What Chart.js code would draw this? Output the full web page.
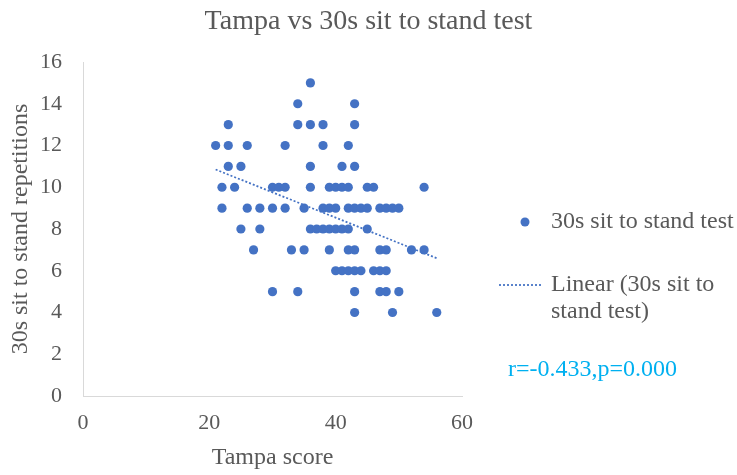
<!DOCTYPE html>
<html>
<head>
<meta charset="utf-8">
<script src="https://cdn.jsdelivr.net/npm/chart.js@4.4.1/dist/chart.umd.min.js"></script>
<style>
  html, body { margin: 0; padding: 0; background: #fff; }
  #wrap { width: 737px; height: 475px; }
</style>
</head>
<body>
<div id="wrap"><canvas id="myChart" width="737" height="475"></canvas></div>
<script>
// Tampa score (x) and 30s sit to stand repetitions (y)
var tampaScore = [
  36,
  34, 43,
  23, 34, 36, 38, 43,
  21, 23, 26, 32, 38, 42,
  23, 25, 36, 41, 43,
  22, 24, 30, 31, 32, 36, 39, 40, 41, 42, 45, 46, 54,
  22, 26, 28, 30, 32, 35, 38, 39, 40, 42, 43, 44, 45, 47, 48, 49, 50,
  25, 28, 36, 37, 38, 39, 40, 41, 42, 45,
  27, 33, 35, 39, 42, 43, 47, 48, 52, 54,
  40, 41, 42, 43, 44, 46, 47, 48,
  30, 34, 43, 47, 48, 50,
  43, 49, 56
];
var sitToStand = [
  15,
  14, 14,
  13, 13, 13, 13, 13,
  12, 12, 12, 12, 12, 12,
  11, 11, 11, 11, 11,
  10, 10, 10, 10, 10, 10, 10, 10, 10, 10, 10, 10, 10,
  9, 9, 9, 9, 9, 9, 9, 9, 9, 9, 9, 9, 9, 9, 9, 9, 9,
  8, 8, 8, 8, 8, 8, 8, 8, 8, 8,
  7, 7, 7, 7, 7, 7, 7, 7, 7, 7,
  6, 6, 6, 6, 6, 6, 6, 6,
  5, 5, 5, 5, 5, 5,
  4, 4, 4
];
// trend line end points as drawn in the picture
var trendX = [21, 56];
var trendY = [10.85, 6.6];

var xTicks = [0, 20, 40, 60];
var yTicks = [0, 2, 4, 6, 8, 10, 12, 14, 16];

var blue = '#4472c4';
var grey = '#595959';
var serif = "'Liberation Serif', 'Times New Roman', serif";

var points = tampaScore.map(function (x, i) { return { x: x, y: sitToStand[i] }; });
var trend = trendX.map(function (x, i) { return { x: x, y: trendY[i] }; });

// title + legend drawn by hand so the title centres on the whole canvas
var extras = {
  id: 'extras',
  afterDraw: function (chart) {
    var c = chart.ctx;
    c.save();
    c.fillStyle = grey;
    c.textBaseline = 'middle';
    c.font = '28px ' + serif;
    c.textAlign = 'center';
    c.fillText('Tampa vs 30s sit to stand test', chart.width / 2, 22);

    c.textAlign = 'left';
    c.font = '24px ' + serif;
    c.fillStyle = blue;
    c.beginPath();
    c.arc(525, 222, 4.5, 0, Math.PI * 2);
    c.fill();
    c.fillStyle = grey;
    c.fillText('30s sit to stand test', 551, 222);

    c.strokeStyle = blue;
    c.lineWidth = 1.75;
    c.setLineDash([2, 2]);
    c.beginPath();
    c.moveTo(499, 285);
    c.lineTo(543, 285);
    c.stroke();
    c.setLineDash([]);
    c.fillText('Linear (30s sit to', 551, 285);
    c.fillText('stand test)', 551, 312);

    c.fillStyle = '#00b0f0';
    c.fillText('r=-0.433,p=0.000', 508, 370);
    c.restore();
  }
};

var ctx = document.getElementById('myChart').getContext('2d');
var myChart = new Chart(ctx, {
  type: 'scatter',
  data: {
    datasets: [{
      label: '30s sit to stand test',
      data: points,
      backgroundColor: blue,
      borderWidth: 0,
      pointRadius: 4.6,
      pointHoverRadius: 4.6
    }, {
      type: 'line',
      label: 'Linear (30s sit to stand test)',
      data: trend,
      borderColor: blue,
      borderWidth: 1.75,
      borderDash: [2, 2],
      pointRadius: 0,
      fill: false
    }]
  },
  options: {
    responsive: false,
    animation: false,
    layout: { padding: { top: 62, right: 275, left: 0, bottom: 0 } },
    plugins: {
      legend: { display: false },
      title: { display: false },
      tooltip: { enabled: false }
    },
    scales: {
      x: {
        type: 'linear',
        min: 0,
        max: 60,
        afterBuildTicks: function (s) { s.ticks = xTicks.map(function (v) { return { value: v }; }); },
        afterFit: function (s) { s.height = 79; },
        grid: { display: false, drawTicks: false },
        border: { display: true, color: '#d9d9d9', width: 1 },
        ticks: { color: grey, padding: 14, font: { family: serif, size: 22 } },
        title: {
          display: true,
          text: 'Tampa score',
          color: grey,
          padding: { top: 0, bottom: 3 },
          font: { family: serif, size: 24 }
        }
      },
      y: {
        min: 0,
        max: 16,
        afterBuildTicks: function (s) { s.ticks = yTicks.map(function (v) { return { value: v }; }); },
        afterFit: function (s) { s.width = 83; },
        grid: { display: false, drawTicks: false },
        border: { display: true, color: '#d9d9d9', width: 1 },
        ticks: { color: grey, padding: 21, font: { family: serif, size: 22 } },
        title: {
          display: true,
          text: '30s sit to stand repetitions',
          color: grey,
          padding: { top: 6, bottom: 0 },
          font: { family: serif, size: 24 }
        }
      }
    }
  },
  plugins: [extras]
});
</script>
</body>
</html>
